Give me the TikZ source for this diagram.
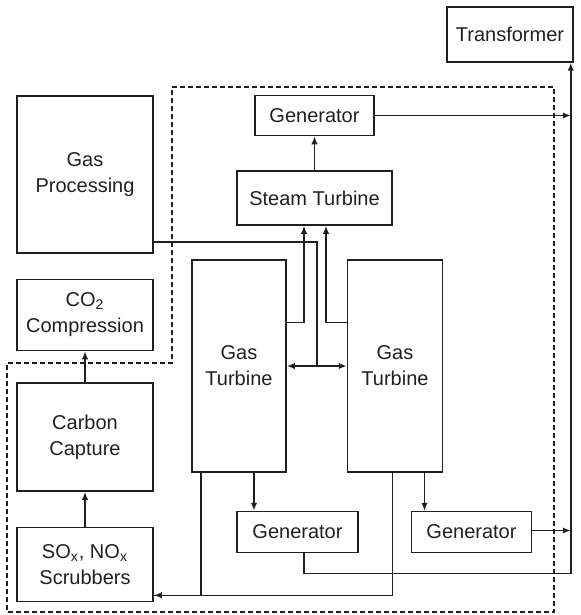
\documentclass[tikz,border=0pt]{standalone}
\usepackage{fontspec}
\setmainfont{Liberation Sans}
\usepackage{tikz}
\usetikzlibrary{arrows.meta, positioning}

\definecolor{ink}{RGB}{35,31,32}

\begin{document}
\begin{tikzpicture}[
  x=1pt, y=-1pt, color=ink,
  unit/.style={rectangle, draw, line width=0.75pt, inner sep=2pt, align=center,
               font=\fontsize{10}{13}\selectfont},
  gen/.style={unit, minimum width=60pt, minimum height=20.5pt},
  side/.style={unit, minimum width=68pt},
  turbine/.style={unit, minimum width=47pt, minimum height=106pt},
  arr/.style={-{Latex[length=4pt, width=3.2pt]}, line width=0.75pt},
  link/.style={line width=0.75pt},
  plant/.style={dashed, dash pattern=on 2.5pt off 1.5pt, line width=0.6pt},
]
  \useasboundingbox (0,0) rectangle (290.5,307.5);
  \node[unit, minimum width=63pt, minimum height=27.5pt] (trans) at (255,17.25) {Transformer};
  \node[unit, minimum width=77.5pt, minimum height=27pt] (steam) at (157.25,99) {Steam Turbine};
  \node[gen, minimum width=59.5pt, minimum height=20pt, above=17pt of steam] (gen1) {Generator};
  \node[side, minimum height=78.5pt] (gasproc) at (42.5,87.25) {Gas\\Processing};
  \node[side, minimum height=35.5pt, below=12.5pt of gasproc] (co2) {CO\textsubscript{2}\\Compression};
  \node[side, minimum height=54pt, below=15.5pt of co2] (carbon) {Carbon\\Capture};
  \node[side, minimum height=37pt, below=17.5pt of carbon] (scrub) {SO\textsubscript{x}, NO\textsubscript{x}\\Scrubbers};
  \node[turbine] (gt1) at (119.5,183) {Gas\\Turbine};
  \node[turbine, minimum width=47.5pt, right=30pt of gt1] (gt2) {Gas\\Turbine};
  \node[gen, minimum width=60.5pt, below=19pt of gt1, xshift=29.25pt] (gen2) {Generator};
  \node[gen, right=26pt of gen2] (gen3) {Generator};

  % combined cycle block
  \draw[plant] (86,43.5) -- (277,43.5) -- (277,306) -- (3.5,306) -- (3.5,181.5) -- (86,181.5) -- cycle;

  \coordinate (bus) at ([xshift=-1.5pt]trans.south east);
  \coordinate (mix) at ([xshift=15pt]gt1.east);
  \coordinate (flue) at ([yshift=3.5pt]scrub.south east);

  \draw[arr] ([xshift=3.25pt]gen2.south) -- ++(0,10) -| (bus);
  \draw[arr] (gen1.east) -- (gen1.east -| bus);
  \draw[arr] ([yshift=0.75pt]gen3.east) -- ([yshift=0.75pt]gen3.east -| bus);
  \draw[arr] (steam.north -| gen1.south) -- (gen1.south);
  \draw[link] ([yshift=6pt]gasproc.south east) -| (mix);
  \draw[{Latex[length=4pt, width=3.2pt]}-{Latex[length=4pt, width=3.2pt]}, line width=0.75pt] (gt1.east) -- (gt2.west);
  \draw[arr] ([yshift=-31.5pt]gt1.north east) -| ([xshift=-5.25pt]steam.south);
  \draw[arr] ([yshift=-31.5pt]gt2.north west) -| ([xshift=5.75pt]steam.south);
  \draw[arr] ([xshift=-1.25pt]gt2.south) |- (flue);
  \draw[link] ([xshift=-19pt]gt1.south) |- (flue);
  \draw[arr] ([xshift=7.5pt]gt1.south) -- ([xshift=-21.75pt]gen2.north);
  \draw[arr] ([xshift=14.75pt]gt2.south) -- ([xshift=-23.5pt]gen3.north);
  \draw[arr] (scrub.north) -- (carbon.south);
  \draw[arr] (carbon.north) -- (co2.south);
\end{tikzpicture}
\end{document}
